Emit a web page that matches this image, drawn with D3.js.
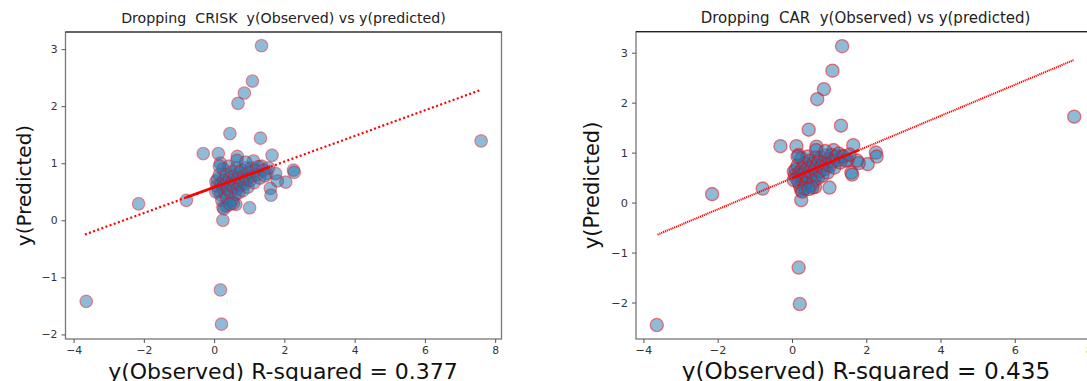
<!DOCTYPE html>
<html>
<head>
<meta charset="utf-8">
<script src="https://cdn.jsdelivr.net/npm/d3@7"></script>
<style>
  body { margin: 0; background: #fff; }
  text { font-family: "DejaVu Sans", sans-serif; }
  .title { white-space: pre; }
</style>
</head>
<body>
<svg id="fig" width="1087" height="381"></svg>
<script>
// observed y (shared by both panels)
const observed = [
  1.35, 1.09, 0.86, 0.68, 0.45, 1.32, 7.60, -0.31, 0.12, 1.65,
  0.66, 1.12, 2.26, 2.28, 2.04, 1.80, 1.60, 1.62, -2.15, -0.79,
  1.01, 0.25, 0.25, 0.62, 0.18, 0.21, -3.64, 0.18, 1.35, 1.50,
  1.75,
  0.05, 0.08, 0.10, 0.12, 0.15, 0.18, 0.20, 0.22, 0.24, 0.26,
  0.28, 0.30, 0.32, 0.34, 0.36, 0.38, 0.40, 0.42, 0.44, 0.46,
  0.48, 0.50, 0.52, 0.54, 0.56, 0.58, 0.60, 0.62, 0.64, 0.66,
  0.68, 0.70, 0.72, 0.75, 0.78, 0.80, 0.82, 0.85, 0.88, 0.90,
  0.93, 0.96, 1.00, 1.03, 1.06, 1.10, 1.14, 1.18, 1.22, 1.26,
  1.30, 1.40, 1.45, 1.55, 0.35, 0.28, 0.55, 0.65, 0.90, 0.15,
  0.05, 0.45
];

// predicted y, model without CRISK
const predCrisk = [
  3.06, 2.44, 2.23, 2.05, 1.52, 1.44, 1.39, 1.17, 1.17, 1.14,
  1.12, 1.04, 0.88, 0.84, 0.67, 0.69, 0.56, 0.44, 0.29, 0.35,
  0.22, 0.23, 0.00, 0.28, -1.22, -1.82, -1.42, 1.00, 0.95, 0.82,
  0.82,
  0.68, 0.60, 0.72, 0.52, 0.80, 0.45, 0.64, 0.35, 0.58, 0.90,
  0.70, 0.48, 0.62, 0.80, 0.40, 0.66, 0.55, 0.95, 0.72, 0.50,
  0.63, 0.85, 0.35, 0.70, 0.58, 0.78, 0.45, 0.66, 0.92, 0.55,
  0.74, 0.48, 0.82, 0.62, 0.88, 0.70, 0.52, 0.78, 0.64, 0.92,
  0.72, 0.58, 0.84, 0.70, 0.92, 0.78, 0.66, 0.88, 0.80, 0.94,
  0.74, 0.88, 0.78, 0.92, 0.25, 0.20, 0.30, 1.05, 1.02, 0.95,
  0.50, 0.28
];

// predicted y, model without CAR
const predCar = [
  3.13, 2.64, 2.27, 2.07, 1.46, 1.54, 1.72, 1.13, 1.13, 1.15,
  1.12, 1.05, 1.00, 0.92, 0.77, 0.79, 0.60, 0.56, 0.17, 0.28,
  0.30, 0.25, 0.05, 0.31, -1.30, -2.03, -2.45, 0.95, 0.93, 0.85,
  0.84,
  0.62, 0.55, 0.66, 0.48, 0.74, 0.40, 0.60, 0.32, 0.55, 0.88,
  0.67, 0.45, 0.58, 0.78, 0.38, 0.64, 0.52, 0.92, 0.70, 0.48,
  0.62, 0.84, 0.35, 0.70, 0.57, 0.78, 0.44, 0.66, 0.90, 0.55,
  0.75, 0.49, 0.83, 0.63, 0.90, 0.72, 0.54, 0.80, 0.67, 0.94,
  0.75, 0.60, 0.87, 0.74, 0.95, 0.82, 0.70, 0.92, 0.85, 0.98,
  0.80, 0.92, 0.84, 0.96, 0.28, 0.22, 0.30, 1.05, 1.03, 0.92,
  0.45, 0.27
];

// fitted line end points [x, y]
const fitCrisk = [[-3.68, -0.25], [7.61, 2.29]];
const denseCrisk = [[-0.8, 0.40], [1.6, 0.94]];
const fitCar = [[-3.62, -0.64], [7.58, 2.85]];
const denseCar = [[0.0, 0.49], [1.8, 1.05]];

const xTicks = [-4, -2, 0, 2, 4, 6, 8];
const yTicksCrisk = [-2, -1, 0, 1, 2, 3];
const yTicksCar = [-2, -1, 0, 1, 2, 3];

const titles = [
  "Dropping  CRISK  y(Observed) vs y(predicted)",
  "Dropping  CAR  y(Observed) vs y(predicted)"
];
const xLabels = ["y(Observed) R-squared = 0.377", "y(Observed) R-squared = 0.435"];
const yLabel = "y(Predicted)";

const svg = d3.select("#fig");

const drawPanel = (p) => {
  const x = d3.scaleLinear().domain(p.xDomain).range([p.left, p.right]);
  const y = d3.scaleLinear().domain(p.yDomain).range([p.bottom, p.top]);
  const g = svg.append("g");

  // points
  g.selectAll("circle")
    .data(observed.map((o, i) => [o, p.pred[i]]))
    .join("circle")
    .attr("cx", (d) => x(d[0]))
    .attr("cy", (d) => y(d[1]))
    .attr("r", p.r)
    .attr("fill", "#1f77b4")
    .attr("fill-opacity", 0.5)
    .attr("stroke", "red")
    .attr("stroke-opacity", p.edgeOpacity)
    .attr("stroke-width", p.edgeWidth);

  // fitted line: dotted over the full range, packed solid inside the cluster
  const line = d3.line().x((d) => x(d[0])).y((d) => y(d[1]));
  g.append("path")
    .attr("d", line(p.fit))
    .attr("fill", "none")
    .attr("stroke", "red")
    .attr("stroke-width", p.lineWidth)
    .attr("stroke-dasharray", p.dash);
  g.append("path")
    .attr("d", line(p.dense))
    .attr("fill", "none")
    .attr("stroke", "red")
    .attr("stroke-width", p.lineWidth + 0.6);

  // frame
  g.append("rect")
    .attr("x", p.left).attr("y", p.top)
    .attr("width", p.right - p.left).attr("height", p.bottom - p.top)
    .attr("fill", "none").attr("stroke", "#777").attr("stroke-width", 1.3);
  g.append("line").attr("x1", p.left).attr("x2", p.right).attr("y1", p.top).attr("y2", p.top)
    .attr("stroke", "#222").attr("stroke-width", 1.2);

  // axes
  const xAxis = g.append("g")
    .attr("transform", `translate(0,${p.bottom})`)
    .call(d3.axisBottom(x).tickValues(p.xTicks).tickSize(4).tickPadding(3).tickFormat(d3.format("d")));
  const yAxis = g.append("g")
    .attr("transform", `translate(${p.left},0)`)
    .call(d3.axisLeft(y).tickValues(p.yTicks).tickSize(4).tickPadding(4).tickFormat(d3.format("d")));
  [xAxis, yAxis].forEach((a) => {
    a.select(".domain").remove();
    a.selectAll("line").attr("stroke", "#555");
    a.selectAll("text")
      .attr("fill", "#333")
      .style("font-family", "DejaVu Sans, sans-serif")
      .style("font-size", p.tickFont + "px");
  });

  g.append("text")
    .attr("class", "title")
    .attr("x", (p.left + p.right) / 2)
    .attr("y", 23)
    .attr("text-anchor", "middle")
    .attr("fill", "#222")
    .style("font-size", p.titleFont + "px")
    .text(p.title);

  g.append("text")
    .attr("x", p.xLabelX)
    .attr("y", 379)
    .attr("text-anchor", "middle")
    .attr("fill", "#111")
    .style("font-size", p.labelFont + "px")
    .text(p.xLabel);

  g.append("text")
    .attr("transform", `translate(${p.yLabelX},${(p.top + p.bottom) / 2}) rotate(-90)`)
    .attr("text-anchor", "middle")
    .attr("fill", "#111")
    .style("font-size", p.yLabelFont + "px")
    .text(yLabel);
};

drawPanel({
  left: 65.5, right: 501.5, top: 32, bottom: 339,
  xDomain: [-4.23, 8.18], yDomain: [-2.08, 3.30],
  pred: predCrisk, fit: fitCrisk, dense: denseCrisk,
  xTicks: xTicks, yTicks: yTicksCrisk,
  r: 6.3, edgeOpacity: 0.4, edgeWidth: 1.2,
  lineWidth: 2.2, dash: "2,2.4",
  tickFont: 10.8, titleFont: 14.2, labelFont: 22, yLabelFont: 20,
  title: titles[0], xLabel: xLabels[0], xLabelX: 283, yLabelX: 31
});

drawPanel({
  left: 636, right: 1095, top: 31.7, bottom: 339,
  xDomain: [-4.2, 8.16], yDomain: [-2.73, 3.42],
  pred: predCar, fit: fitCar, dense: denseCar,
  xTicks: xTicks, yTicks: yTicksCar,
  r: 6.6, edgeOpacity: 0.5, edgeWidth: 1.3,
  lineWidth: 2, dash: "1.2,0.8",
  tickFont: 11.3, titleFont: 15, labelFont: 23.2, yLabelFont: 21,
  title: titles[1], xLabel: xLabels[1], xLabelX: 866, yLabelX: 599
});
</script>
</body>
</html>
